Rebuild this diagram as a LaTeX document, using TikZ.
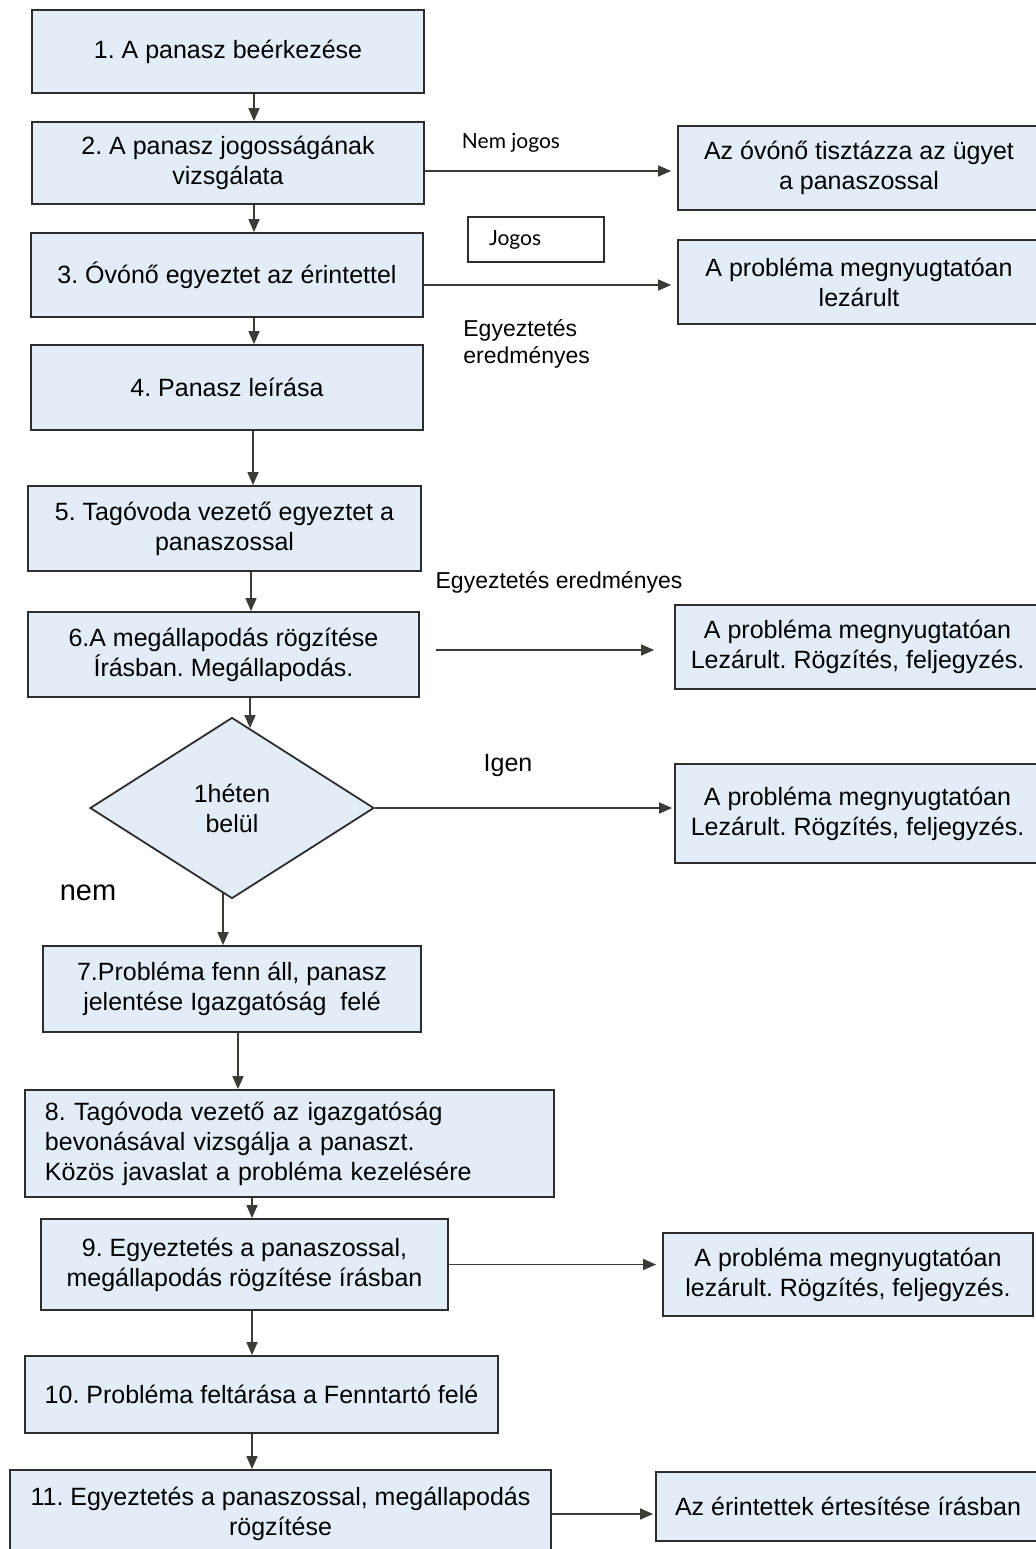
\documentclass[tikz,border=0pt]{standalone}
\usepackage{fontspec}
\setmainfont{Liberation Sans}
\newfontfamily\latofont{Lato}
\usepackage{xcolor}
\usetikzlibrary{arrows.meta,shapes.geometric,calc}
\frenchspacing

\definecolor{dobozkek}{RGB}{226,237,247}
\definecolor{keret}{RGB}{45,45,45}
\definecolor{nyilszin}{RGB}{60,60,55}

\tikzset{
  lepes/.style={rectangle,draw=keret,line width=0.9pt,fill=dobozkek,align=center,
    font=\fontsize{12.5}{15}\selectfont},
  dontes/.style={diamond,draw=keret,line width=0.9pt,fill=dobozkek,align=center,
    inner sep=0pt,font=\fontsize{12.5}{15}\selectfont},
  nyil/.style={draw=nyilszin,line width=0.8pt,-{Triangle[length=6.5pt,width=5.5pt]}},
  felirat/.style={inner sep=0pt,font=\fontsize{11.5}{13.5}\selectfont},
  kisfelirat/.style={inner sep=0pt,font=\latofont\fontsize{10.5}{12}\selectfont}
}

\begin{document}
\begin{tikzpicture}[x=0.5pt,y=-0.5pt]
  \useasboundingbox[fill=white] (0,0) rectangle (1036,1549);
  % bal oszlop
  \node[lepes,minimum width=196pt,minimum height=41.5pt] (b1) at (228,51.5) {1. A panasz be\'erkez\'ese};
  \node[lepes,minimum width=196pt,minimum height=41pt] (b2) at (228,163) {2. A panasz jogoss\'ag\'anak\\vizsg\'alata};
  \node[lepes,minimum width=196pt,minimum height=42pt] (b3) at (227,275) {3. \'Ov\'on\H{o} egyeztet az \'erintettel};
  \node[lepes,minimum width=196pt,minimum height=42.5pt] (b4) at (227,387.5) {4. Panasz le\'ir\'asa};
  \node[lepes,minimum width=196.5pt,minimum height=42.5pt] (b5) at (224.5,528.5) {5. Tag\'ovoda vezet\H{o} egyeztet a\\panaszossal};
  \node[lepes,minimum width=195.5pt,minimum height=42.5pt] (b6) at (223.5,654.5) {6.A meg\'allapod\'as r\"ogz\'it\'ese\\\'Ir\'asban. Meg\'allapod\'as.};
  \node[dontes,minimum width=142pt,minimum height=90.5pt] (dia) at (232,808) {1h\'eten\\bel\"ul};
  \node[lepes,minimum width=189pt,minimum height=43pt] (b7) at (232,989) {7.Probl\'ema fenn \'all, panasz\\jelent\'ese Igazgat\'os\'ag\ \ fel\'e};
  \node[lepes,align=left,text width=244.5pt,inner xsep=10pt,minimum height=53.5pt] (b8) at (289.5,1143.5) {8. Tag\'ovoda vezet\H{o} az igazgat\'os\'ag\\bevon\'as\'aval vizsg\'alja a panaszt.\\K\"oz\"os javaslat a probl\'ema kezel\'es\'ere};
  \node[lepes,minimum width=203.5pt,minimum height=45.5pt] (b9) at (244.5,1264.5) {9. Egyeztet\'es a panaszossal,\\meg\'allapod\'as r\"ogz\'it\'ese \'ir\'asban};
  \node[lepes,minimum width=236.5pt,minimum height=38.5pt] (b10) at (261.5,1394.5) {10. Probl\'ema felt\'ar\'asa a Fenntart\'o fel\'e};
  \node[lepes,minimum width=270.5pt,minimum height=44pt] (b11) at (280.5,1514) {11. Egyeztet\'es a panaszossal, meg\'allapod\'as\\r\"ogz\'it\'ese};
  % jobb oszlop
  \node[lepes,minimum width=181pt,minimum height=42pt] (bA) at (859,168) {Az \'ov\'on\H{o} tiszt\'azza az \"ugyet\\a panaszossal};
  \node[lepes,minimum width=181pt,minimum height=42pt] (bB) at (859,282) {A probl\'ema megnyugtat\'oan\\lez\'arult};
  \node[lepes,minimum width=182.5pt,minimum height=42pt] (bC) at (857.5,647) {A probl\'ema megnyugtat\'oan\\Lez\'arult. R\"ogz\'it\'es, feljegyz\'es.};
  \node[lepes,minimum width=182.5pt,minimum height=49.5pt] (bD) at (857.5,813.5) {A probl\'ema megnyugtat\'oan\\Lez\'arult. R\"ogz\'it\'es, feljegyz\'es.};
  \node[lepes,minimum width=185pt,minimum height=41.5pt] (bE) at (848,1274.5) {A probl\'ema megnyugtat\'oan\\lez\'arult. R\"ogz\'it\'es, feljegyz\'es.};
  \node[lepes,minimum width=192pt,minimum height=34.5pt] (bF) at (848,1506.5) {Az \'erintettek \'ertes\'it\'ese \'ir\'asban};
  % feliratok
  \node[kisfelirat] (nemjogos) at (511,143) {Nem jogos};
  \node[kisfelirat,draw=keret,line width=0.8pt,fill=white,align=left,text width=47pt,inner xsep=10.5pt,minimum height=22.5pt] (jogos) at (536,239.5) {Jogos};
  \node[felirat,anchor=west,align=left] (eredm1) at (463,343.5) {Egyeztet\'es\\eredm\'enyes};
  \node[felirat] (eredm2) at (559,582) {Egyeztet\'es eredm\'enyes};
  \node[felirat,font=\fontsize{12.5}{15}\selectfont] (igen) at (508,765) {Igen};
  \node[felirat,font=\fontsize{14.5}{17}\selectfont] (nem) at (88,893) {nem};
  % nyilak lefele
  \draw[nyil] ([xshift=13pt]b1.south) -- ($(b1.south |- b2.north)+(13pt,0)$);
  \draw[nyil] ([xshift=13pt]b2.south) -- ($(b2.south |- b3.north)+(13pt,0)$);
  \draw[nyil] ([xshift=13.5pt]b3.south) -- ($(b3.south |- b4.north)+(13.5pt,0)$);
  \draw[nyil] ([xshift=13pt]b4.south) -- ($(b4.south |- b5.north)+(13pt,0)$);
  \draw[nyil] ([xshift=13.25pt]b5.south) -- ($(b5.south |- b6.north)+(13.25pt,0)$);
  \draw[nyil] ([xshift=13.25pt]b6.south) -- ($(dia.north)+(9pt,-5.75pt)$);
  \draw[nyil] ($(dia.south)+(-4.5pt,3pt)$) -- ($(dia.south |- b7.north)+(-4.5pt,0)$);
  \draw[nyil] ([xshift=3pt]b7.south) -- ($(b7.south |- b8.north)+(3pt,0)$);
  \draw[nyil] ([xshift=-18.75pt]b8.south) -- ($(b8.south |- b9.north)+(-18.75pt,0)$);
  \draw[nyil] ([xshift=3.75pt]b9.south) -- ($(b9.south |- b10.north)+(3.75pt,0)$);
  \draw[nyil] ([xshift=-4.75pt]b10.south) -- ($(b10.south |- b11.north)+(-4.75pt,0)$);
  % nyilak jobbra
  \draw[nyil,shorten >=3pt] ($(b2.east)+(0,-4pt)$) -- ($(b2.east -| bA.west)+(0,-4pt)$);
  \draw[nyil,shorten >=3pt] ($(b3.east)+(0,-5pt)$) -- ($(b3.east -| bB.west)+(0,-5pt)$);
  \draw[nyil,shorten <=8pt,shorten >=10pt] ($(b6.east)+(0,2.25pt)$) -- ($(b6.east -| bC.west)+(0,2.25pt)$);
  \draw[nyil,shorten >=1pt] (dia.east) -- (dia.east -| bD.west);
  \draw[nyil,shorten >=3pt] (b9.east) -- (b9.east -| bE.west);
  \draw[nyil,shorten >=1pt] (b11.east) -- (b11.east -| bF.west);
\end{tikzpicture}
\end{document}
